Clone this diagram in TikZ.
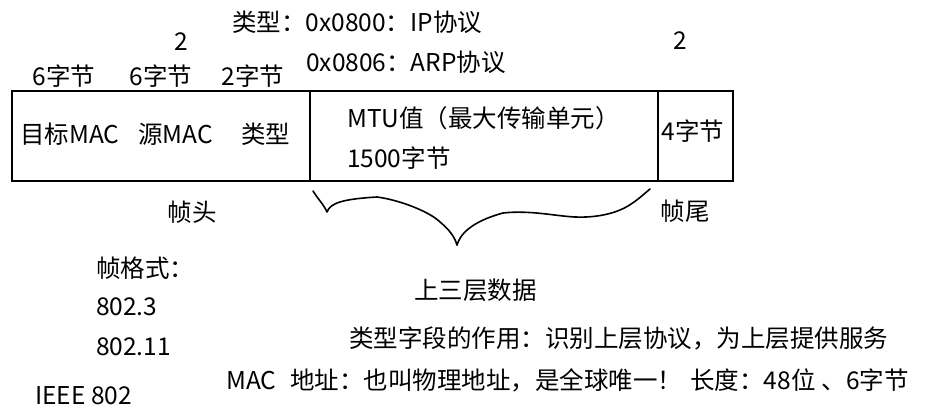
\documentclass[tikz,border=0pt]{standalone}
\usepackage{fontspec}
\setmainfont{Noto Sans CJK SC}
\begin{document}
\begin{tikzpicture}[x=1pt,y=-1pt,
  txt/.style={inner sep=0pt,font=\fontsize{24.5}{28}\selectfont},
  frame/.style={draw=black,line width=2.8pt},
  brace/.style={draw=black,line width=1.6pt,line cap=round,line join=round}]
\useasboundingbox[fill=white] (0,0) rectangle (936,409);
% frame
\coordinate (tl) at (12,91);
\coordinate (br) at (733,181);
\draw[frame] (tl) rectangle (br);
\coordinate (d1t) at (310,91); \coordinate (d1b) at (310,181);
\coordinate (d2t) at (658,91); \coordinate (d2b) at (658,181);
\draw[frame] (d1t) -- (d1b);
\draw[frame] (d2t) -- (d2b);
% top labels
\node[txt,anchor=west] (typeinfo) at (232,22) {类型：0x0800：IP协议};
\node[txt,anchor=west] (arp) at (306,62) {0x0806：ARP协议};
\node[txt] (two1) at (181,42) {2};
\node[txt] (two2) at (680,41) {2};
\node[txt] (b1) at (64,76) {6字节};
\node[txt] (b2) at (161,76) {6字节};
\node[txt] (b3) at (253,76) {2字节};
% inside frame
\node[txt,anchor=west] (dmac) at (20,134) {目标MAC};
\node[txt,anchor=west] (smac) at (138,134) {源MAC};
\node[txt,anchor=west] (typ) at (241,134) {类型};
\node[txt,anchor=west] (mtu) at (347,118) {MTU值（最大传输单元）};
\node[txt,anchor=west] (mtuv) at (347,158) {1500字节};
\node[txt] (fcs) at (693,131) {4字节};
% below
\node[txt] (head) at (192,212) {帧头};
\node[txt] (tail) at (685,211) {帧尾};
\draw[brace] (313,191) .. controls (318,199) and (324,205) .. (327,212)
  .. controls (330,203) and (343,199) .. (377,197)
  .. controls (400,200) and (430,212) .. (440,222)
  .. controls (450,230) and (455,238) .. (457,245);
\draw[brace] (457,245) .. controls (460,235) and (470,222) .. (503,213)
  .. controls (530,210) and (555,216) .. (575,217)
  .. controls (600,218) and (618,212) .. (628,206)
  .. controls (638,200) and (645,193) .. (650,189);
\node[txt,anchor=west] (upper) at (414,290) {上三层数据};
\node[txt,anchor=west] (fmt) at (96,268) {帧格式：};
\node[txt,anchor=west] (s3) at (96,307) {802.3};
\node[txt,anchor=west] (s11) at (96,347) {802.11};
\node[txt,anchor=west] (ieee) at (35,396) {IEEE 802};
\node[txt,anchor=west] (role) at (349,338) {类型字段的作用：识别上层协议，为上层提供服务};
\node[txt,anchor=west] (mac) at (226,380) {MAC\hspace{14pt}地址：也叫物理地址，是全球唯一！\hspace{8pt}长度：48位\hspace{6pt}、6字节};
\end{tikzpicture}
\end{document}
